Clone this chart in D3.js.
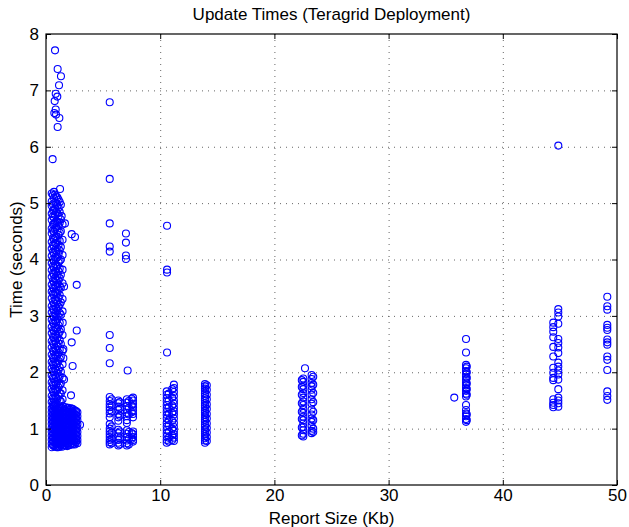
<!DOCTYPE html>
<html>
<head>
  <style>
    body { margin: 0; background: #fff; }
    text { font-family: "Liberation Sans", Arial, sans-serif; }
    .grid line { stroke: #666; stroke-dasharray: 1 5; }
    .grid path { display: none; }
  </style>
</head>
<body>
  <script src="https://d3js.org/d3.v7.min.js"></script>
  <svg id="chart" width="629" height="527"></svg>
  <script>
    // each entry: [report size (Kb), [update times (s)]]
    var smallReports = [
      [0.50, [5.17, 5.03, 4.95, 4.81, 4.7, 4.55, 4.46, 4.31, 4.19, 4.06, 3.93, 3.81, 3.69, 3.55, 3.43, 3.31, 3.17, 3.06, 2.93, 2.8, 2.69, 2.55, 2.44, 2.31, 2.18, 2.07, 1.94, 1.82, 1.71, 1.58, 1.47]],
      [0.60, [5.14, 4.98, 4.87, 4.76, 4.62, 4.51, 4.38, 4.25, 4.13, 4.0, 3.88, 3.75, 3.62, 3.5, 3.39, 3.25, 3.12, 3.0, 2.88, 2.75, 2.63, 2.51, 2.38, 2.26, 2.14, 2.02, 1.9, 1.78, 1.66, 1.54, 1.43]],
      [0.70, [5.2, 5.09, 4.88, 4.74, 4.63, 4.49, 4.36, 4.24, 4.11, 3.97, 3.86, 3.74, 3.6, 3.48, 3.37, 3.22, 3.11, 2.98, 2.86, 2.73, 2.62, 2.49, 2.37, 2.24, 2.12, 2.0, 1.88, 1.76, 1.64, 1.52, 1.41]],
      [0.80, [5.15, 5.01, 4.9, 4.79, 4.65, 4.53, 4.39, 4.29, 4.17, 4.04, 3.92, 3.79, 3.67, 3.54, 3.42, 3.29, 3.18, 3.04, 2.92, 2.8, 2.67, 2.56, 2.43, 2.3, 2.19, 2.06, 1.95, 1.83, 1.7, 1.59, 1.46]],
      [0.90, [5.12, 4.99, 4.84, 4.68, 4.57, 4.41, 4.28, 4.15, 4.02, 3.9, 3.77, 3.64, 3.52, 3.4, 3.27, 3.14, 3.01, 2.9, 2.77, 2.65, 2.52, 2.4, 2.28, 2.15, 2.03, 1.91, 1.79, 1.67, 1.55, 1.44]],
      [1.00, [5.1, 4.96, 4.82, 4.66, 4.52, 4.35, 4.19, 4.04, 3.88, 3.71, 3.56, 3.41, 3.24, 3.09, 2.94, 2.79, 2.61, 2.46, 2.31, 2.16, 1.99, 1.84, 1.69, 1.53]],
      [1.10, [5.06, 4.92, 4.77, 4.6, 4.44, 4.26, 4.1, 3.95, 3.79, 3.63, 3.46, 3.32, 3.16, 2.99, 2.83, 2.68, 2.51, 2.35, 2.2, 2.04, 1.89, 1.73, 1.58]],
      [1.20, [5.02, 4.84, 4.65, 4.48, 4.33, 4.16, 3.98, 3.84, 3.67, 3.52, 3.37, 3.2, 3.05, 2.88, 2.72, 2.57, 2.4, 2.24, 2.09, 1.93, 1.77, 1.63, 1.5]],
      [1.30, [4.97, 4.71, 4.5, 4.22, 4.0, 3.73, 3.5, 3.24, 3.02, 2.76, 2.5, 2.27, 2.01, 1.8, 1.62, 1.48]],
      [1.45, [4.62, 4.35, 4.08, 3.82, 3.58, 3.3, 3.08, 2.66, 2.38, 2.14, 1.9, 1.68, 1.52]],
      [0.79, [7.71]], [1.02, [7.38, 6.35]], [1.31, [7.25]], [1.14, [7.09]],
      [0.85, [6.94, 6.66]], [0.99, [6.89]], [0.76, [6.81]], [0.73, [6.6]],
      [0.88, [6.57]], [1.17, [6.51]], [0.58, [5.78]], [1.23, [5.25]],
      [1.37, [4.77]], [1.66, [4.64]], [2.25, [4.45, 2.53]], [2.54, [4.4]],
      [1.58, [3.52, 1.87]], [2.69, [3.55, 2.74]], [1.46, [2.88]], [1.52, [2.41, 2.25]],
      [2.33, [2.11]], [2.19, [1.59]], [2.98, [1.07]],
      [0.50, [1.36, 1.29, 1.22, 1.15, 1.08, 1.01, 0.94, 0.87, 0.8, 0.73, 0.67]],
      [0.61, [1.4, 1.33, 1.26, 1.19, 1.12, 1.05, 0.98, 0.91, 0.84, 0.77, 0.7]],
      [0.72, [1.39, 1.32, 1.25, 1.18, 1.11, 1.04, 0.97, 0.9, 0.83, 0.76, 0.69]],
      [0.84, [1.37, 1.3, 1.23, 1.16, 1.09, 1.02, 0.95, 0.88, 0.81, 0.74, 0.68]],
      [0.95, [1.35, 1.28, 1.21, 1.14, 1.07, 1.0, 0.93, 0.86, 0.79, 0.72, 0.67]],
      [1.06, [1.36, 1.29, 1.22, 1.15, 1.08, 1.01, 0.94, 0.87, 0.8, 0.73, 0.67]],
      [1.18, [1.38, 1.31, 1.24, 1.17, 1.1, 1.03, 0.96, 0.89, 0.82, 0.75, 0.68]],
      [1.29, [1.34, 1.27, 1.2, 1.13, 1.06, 0.99, 0.92, 0.85, 0.78, 0.71]],
      [1.40, [1.36, 1.29, 1.22, 1.15, 1.08, 1.01, 0.94, 0.87, 0.8, 0.73, 0.68]],
      [1.51, [1.39, 1.32, 1.25, 1.18, 1.11, 1.04, 0.97, 0.9, 0.83, 0.76, 0.7]],
      [1.62, [1.34, 1.27, 1.2, 1.13, 1.06, 0.99, 0.92, 0.85, 0.78, 0.71]],
      [1.73, [1.38, 1.31, 1.24, 1.17, 1.1, 1.03, 0.96, 0.89, 0.82, 0.75, 0.7]],
      [1.85, [1.36, 1.29, 1.22, 1.15, 1.08, 1.01, 0.94, 0.87, 0.8, 0.73, 0.69]],
      [1.96, [1.37, 1.3, 1.23, 1.16, 1.09, 1.02, 0.95, 0.88, 0.81, 0.74, 0.7]],
      [2.08, [1.33, 1.26, 1.19, 1.12, 1.05, 0.98, 0.91, 0.84, 0.77, 0.71]],
      [2.19, [1.36, 1.29, 1.22, 1.15, 1.08, 1.01, 0.94, 0.87, 0.8, 0.73]],
      [2.30, [1.35, 1.28, 1.21, 1.14, 1.07, 1.0, 0.93, 0.86, 0.79, 0.72]],
      [2.41, [1.34, 1.27, 1.2, 1.13, 1.06, 0.99, 0.92, 0.85, 0.78, 0.73]],
      [2.52, [1.32, 1.25, 1.18, 1.11, 1.04, 0.97, 0.9, 0.83, 0.77, 0.72]],
      [2.63, [1.31, 1.24, 1.17, 1.1, 1.03, 0.96, 0.89, 0.82, 0.76]],
      [2.75, [1.29, 1.22, 1.15, 1.08, 1.01, 0.94, 0.87, 0.8, 0.74]]
    ];

    var mediumReports = [
      [5.58, [6.79, 5.43, 4.64, 4.23, 4.14, 2.66, 2.43, 2.16, 1.56, 1.49, 1.43, 1.38, 1.33, 1.27, 1.2, 1.08, 1.0, 0.95, 0.9, 0.85, 0.8, 0.76, 0.72]],
      [5.75, [1.52, 1.41, 1.3, 1.04, 0.93, 0.82, 0.74]],
      [6.33, [1.5, 1.45, 1.39, 1.33, 1.26, 1.2, 1.14, 0.98, 0.92, 0.86, 0.8, 0.75, 0.7]],
      [6.45, [1.47, 1.36, 1.23, 0.95, 0.83, 0.72]],
      [7.0, [4.46, 4.3, 4.07, 4.01]],
      [7.08, [1.52, 1.46, 1.4, 1.34, 1.28, 1.22, 1.15, 1.1, 0.97, 0.91, 0.85, 0.79, 0.74, 0.7]],
      [7.15, [2.03]],
      [7.25, [1.49, 1.37, 1.25, 0.94, 0.82, 0.72]],
      [7.5, [1.53, 1.41, 1.29, 0.92, 0.82]],
      [7.62, [1.55, 1.5, 1.44, 1.38, 1.32, 1.26, 1.2, 0.95, 0.9, 0.85, 0.8, 0.77]],
      [10.6, [4.6, 3.82, 3.77, 2.35]],
      [10.57, [1.66, 1.6, 1.54, 1.48, 1.42, 1.36, 1.3, 1.24, 1.18, 1.1, 1.04, 0.98, 0.92, 0.86, 0.8, 0.75]],
      [10.75, [1.62, 1.5, 1.38, 1.27, 1.15, 1.06, 0.95, 0.84, 0.77]],
      [11.05, [1.7, 1.55, 1.41, 1.28, 1.14, 1.0, 0.88, 0.8]],
      [11.2, [1.78, 1.72, 1.65, 1.58, 1.5, 1.44, 1.37, 1.31, 1.25, 1.18, 1.1, 1.03, 0.96, 0.9, 0.84, 0.78]],
      [13.92, [1.79, 1.75, 1.71, 1.67, 1.62, 1.58, 1.54, 1.5, 1.45, 1.41, 1.37, 1.32, 1.28, 1.24, 1.2, 1.16, 1.12, 1.07, 1.03, 0.99, 0.95, 0.91, 0.87, 0.83, 0.79, 0.75]],
      [14.08, [1.77, 1.69, 1.6, 1.52, 1.43, 1.35, 1.26, 1.18, 1.09, 1.01, 0.93, 0.85, 0.78]]
    ];

    var largeReports = [
      [22.68, [2.07]],
      [22.4, [1.86, 1.74, 1.6, 1.45, 1.3, 1.17, 1.02, 0.88]],
      [22.53, [1.89, 1.83, 1.76, 1.7, 1.63, 1.55, 1.48, 1.42, 1.35, 1.28, 1.21, 1.15, 1.09, 1.03, 0.97, 0.91, 0.86]],
      [23.26, [1.95, 1.88, 1.81, 1.75, 1.69, 1.6, 1.52, 1.44, 1.34, 1.25, 1.18, 1.12, 1.05, 0.96, 0.92]],
      [23.4, [1.92, 1.78, 1.63, 1.47, 1.3, 1.15, 1.0, 0.94]],
      [35.75, [1.55]],
      [36.78, [2.59, 2.35, 2.13, 2.07, 2.02, 1.97, 1.92, 1.87, 1.82, 1.77, 1.72, 1.67, 1.62, 1.57, 1.42, 1.33, 1.27, 1.22, 1.17, 1.12]],
      [36.85, [2.1, 2.0, 1.9, 1.8, 1.7, 1.6, 1.25, 1.15]],
      [44.42, [2.88, 2.8, 2.72, 2.62, 2.45, 2.28, 2.08, 1.99, 1.9, 1.86, 1.52, 1.46, 1.42, 1.38]],
      [44.86, [6.02, 3.12, 3.06, 2.99, 2.86, 2.59, 2.52, 2.44, 2.34, 2.17, 2.1, 2.03, 1.96, 1.87, 1.7, 1.55, 1.5, 1.45, 1.39]],
      [49.15, [3.34, 3.17, 3.11, 2.84, 2.79, 2.75, 2.58, 2.53, 2.49, 2.28, 2.22, 2.04, 1.66, 1.58, 1.51]]
    ];

    var xTicks = [0, 10, 20, 30, 40, 50];
    var yTicks = [0, 1, 2, 3, 4, 5, 6, 7, 8];

    var margin = {left: 46, top: 34, right: 12, bottom: 42};
    var width = 629 - margin.left - margin.right;
    var height = 527 - margin.top - margin.bottom;

    var svg = d3.select('#chart');
    var g = svg.append('g')
      .attr('transform', 'translate(' + margin.left + ',' + margin.top + ')');

    var x = d3.scaleLinear().domain([0, 50]).range([0, width]);
    var y = d3.scaleLinear().domain([0, 8]).range([height, 0]);

    // dotted grid
    g.append('g')
      .attr('class', 'grid')
      .attr('transform', 'translate(0,' + height + ')')
      .call(d3.axisBottom(x).tickValues(xTicks.slice(1, -1)).tickSize(-height).tickFormat(''));
    g.append('g')
      .attr('class', 'grid')
      .call(d3.axisLeft(y).tickValues(yTicks.slice(1, -1)).tickSize(-width).tickFormat(''));

    // points
    var points = [];
    smallReports.concat(mediumReports, largeReports).forEach(function(col) {
      col[1].forEach(function(t) {
        points.push({size: col[0], time: t});
      });
    });

    g.append('g')
      .selectAll('circle')
      .data(points)
      .enter()
      .append('circle')
      .attr('cx', function(d) { return x(d.size); })
      .attr('cy', function(d) { return y(d.time); })
      .attr('r', 3.5)
      .attr('fill', 'none')
      .attr('stroke', '#0000ff')
      .attr('stroke-width', 1.1);

    // axes with inward ticks
    var xAxis = g.append('g')
      .attr('transform', 'translate(0,' + height + ')')
      .call(d3.axisBottom(x).tickValues(xTicks).tickSize(-5).tickPadding(4));
    var xTop = g.append('g')
      .call(d3.axisTop(x).tickValues(xTicks).tickSize(-5).tickFormat(''));
    var yAxis = g.append('g')
      .call(d3.axisLeft(y).tickValues(yTicks).tickSize(-5).tickPadding(7));
    var yRight = g.append('g')
      .attr('transform', 'translate(' + width + ',0)')
      .call(d3.axisRight(y).tickValues(yTicks).tickSize(-5).tickFormat(''));

    [xAxis, xTop, yAxis, yRight].forEach(function(a) {
      a.select('.domain').remove();
      a.selectAll('line').attr('stroke', '#000');
      a.selectAll('text').attr('fill', '#000').style('font-size', '17px');
    });

    g.append('rect')
      .attr('width', width)
      .attr('height', height)
      .attr('fill', 'none')
      .attr('stroke', '#000')
      .attr('stroke-width', 1.2);

    svg.append('text')
      .attr('x', margin.left + width / 2)
      .attr('y', 20)
      .attr('text-anchor', 'middle')
      .style('font-size', '17px')
      .text('Update Times (Teragrid Deployment)');

    svg.append('text')
      .attr('x', margin.left + width / 2)
      .attr('y', 524)
      .attr('text-anchor', 'middle')
      .style('font-size', '17px')
      .text('Report Size (Kb)');

    svg.append('text')
      .attr('transform', 'translate(22,' + (margin.top + height / 2) + ') rotate(-90)')
      .attr('text-anchor', 'middle')
      .style('font-size', '17px')
      .text('Time (seconds)');
  </script>
</body>
</html>
